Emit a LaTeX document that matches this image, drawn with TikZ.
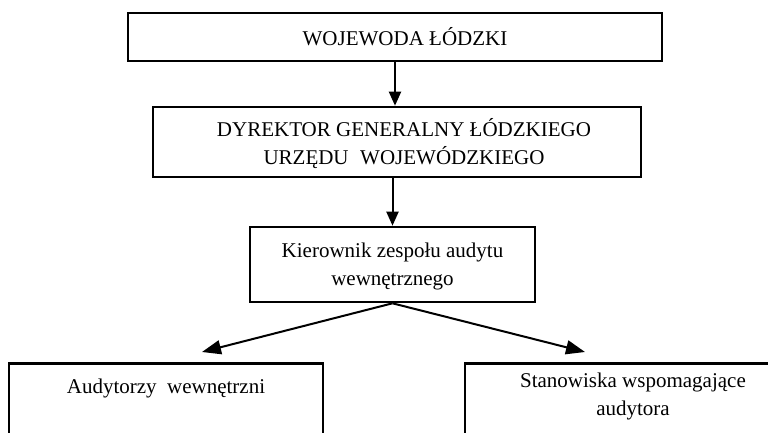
\documentclass[tikz,border=0pt]{standalone}
\usepackage{fontspec}
\setmainfont{Liberation Serif}
\usetikzlibrary{arrows.meta}
\begin{document}
\begin{tikzpicture}[x=0.5pt,y=-0.5pt,
  box/.style={draw=black, line width=1.3pt, rectangle, inner sep=0pt, fill=none},
  txt/.style={align=center, inner sep=0pt, font=\fontsize{10.5}{14}\selectfont},
  arr/.style={line width=1pt, -{Triangle[length=7pt,width=6pt]}},
  darr/.style={line width=1pt, -{Triangle[length=9.5pt,width=7pt]}}]
\useasboundingbox (0,0) rectangle (768,433);
\clip (0,0) rectangle (768,433);
\fill[white] (0,0) rectangle (768,433);
% boxes
\node[box, minimum width=267pt, minimum height=24pt] (top) at (395,37) {};
\node[txt] (toptxt) at ([xshift=5pt]top.center) {WOJEWODA ŁÓDZKI};
\node[box, minimum width=244pt, minimum height=35pt] (dyr) at (397,142) {};
\node[txt] (dyrtxt) at ([xshift=3.5pt,yshift=-1pt]dyr.center) {DYREKTOR GENERALNY ŁÓDZKIEGO\\URZĘDU\hspace{0.55em}WOJEWÓDZKIEGO};
\node[box, minimum width=142.5pt, minimum height=37.5pt] (kier) at (392.5,264.5) {};
\node[txt] (kiertxt) at ([yshift=-1pt]kier.center) {Kierownik zespołu audytu\\wewnętrznego};
\node[box, anchor=north, minimum width=157pt, minimum height=70pt] (aud) at (166,362) {};
\node[txt] (audtxt) at (166,388) {Audytorzy\ \ wewnętrzni};
\node[box, anchor=north, minimum width=168pt, minimum height=70pt] (stan) at (633,362) {};
\node[txt] (stantxt) at (633,396) {Stanowiska wspomagające\\audytora};
% arrow end points
\coordinate (audin) at (202,352);
\coordinate (stanin) at (585,352);
% connectors
\draw[arr] (top.south) -- (top.south |- dyr.north);
\draw[arr] (dyr.south -| kier.north) -- (kier.north);
\draw[darr] (kier.south) -- (audin);
\draw[darr] (kier.south) -- (stanin);
\end{tikzpicture}
\end{document}
